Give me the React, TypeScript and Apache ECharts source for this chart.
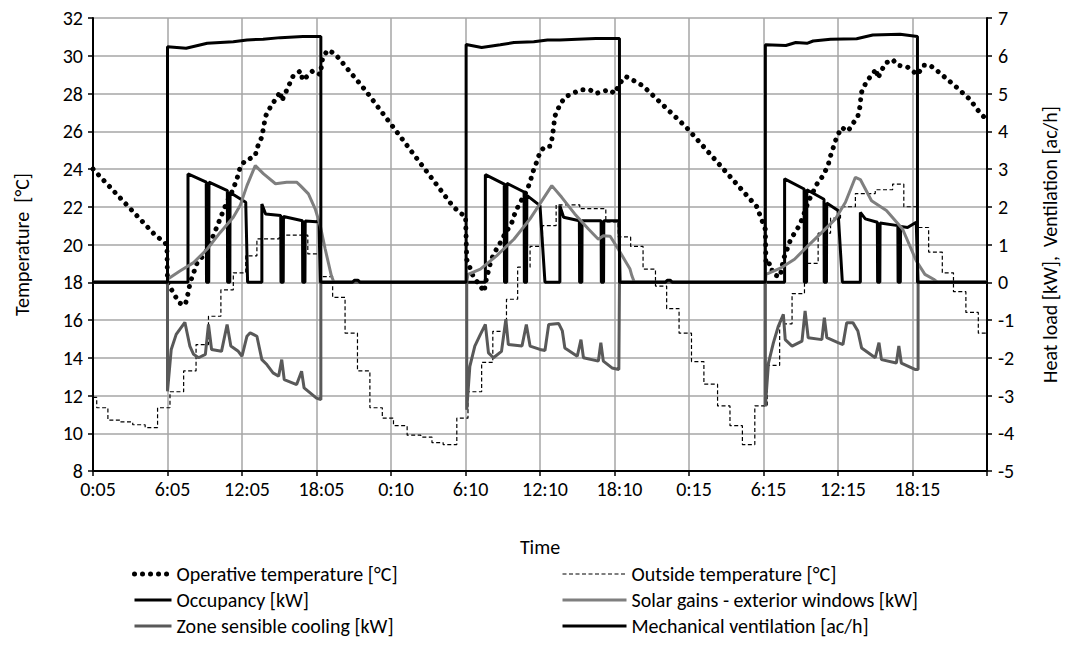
import React, { useEffect, useRef } from "react";
import * as echarts from "echarts";

// x axis: hours from start (0..72), labels every 6 hours
const xTickLabels = ["0:05", "6:05", "12:05", "18:05", "0:10", "6:10", "12:10", "18:10", "0:15", "6:15", "12:15", "18:15", ""];

const seriesNames = [
  "Operative temperature [°C]",
  "Outside temperature [°C]",
  "Occupancy [kW]",
  "Solar gains - exterior windows [kW]",
  "Zone sensible cooling [kW]",
  "Mechanical ventilation [ac/h]",
];

// [hour, °C]
const operativeTemp = [
  [0, 24.0], [1, 23.3], [2, 22.6], [3, 21.9], [4, 21.2], [5, 20.5], [5.8, 20.1], [5.95, 19.9],
  [6.0, 18.0], [6.5, 17.4], [6.95, 16.9], [7.43, 16.8], [7.65, 17.4], [7.83, 18.0], [8.05, 18.4],
  [8.37, 19.0], [8.86, 19.4], [9.18, 19.7], [9.44, 20.1], [9.77, 20.6], [10.2, 21.3], [10.5, 21.8],
  [10.9, 22.4], [11.3, 22.95], [11.6, 23.5], [11.86, 24.1], [12.26, 24.45], [12.5, 24.5], [13.07, 24.7],
  [13.2, 25.1], [13.6, 25.7], [13.9, 26.8], [14.3, 27.3], [14.7, 27.7], [15.1, 28.1], [15.2, 27.6],
  [16.1, 28.9], [16.7, 29.2], [16.9, 28.7], [17.7, 29.2], [18.3, 29.0], [18.5, 29.9], [18.9, 30.3],
  [19.5, 30.1], [20.5, 29.3], [21.9, 28.2], [28.9, 22.1], [29.5, 21.7], [30.0, 21.5],
  [30.1, 19.2], [30.4, 18.7], [30.65, 18.25], [31.2, 17.8], [31.5, 17.5], [31.65, 18.07], [32.07, 19.2],
  [32.45, 19.7], [32.9, 20.2], [33.2, 20.6], [33.7, 21.1], [34.0, 21.7], [34.3, 22.1], [34.9, 22.8],
  [35.2, 23.3], [35.4, 23.8], [35.75, 24.4], [36.0, 24.9], [36.4, 25.2], [36.8, 25.2], [37.0, 25.7],
  [37.2, 26.8], [37.6, 27.4], [38.0, 27.8], [38.6, 28.0], [39.3, 28.2], [40.0, 28.2], [40.5, 28.0],
  [41.0, 28.1], [41.6, 28.2], [42.0, 28.0], [42.5, 28.6], [42.9, 28.9], [43.5, 28.7], [44.3, 28.4],
  [47.8, 26.2], [53.46, 22.0], [53.86, 21.3], [54.15, 20.8], [54.2, 18.9], [54.53, 19.0], [54.8, 18.4],
  [55.34, 18.3], [55.6, 19.2], [55.93, 19.8], [56.2, 20.3], [56.7, 20.8], [56.95, 21.1], [57.2, 21.5],
  [57.4, 21.9], [57.7, 22.4], [58.0, 22.8], [58.3, 23.2], [58.8, 23.65], [59.2, 24.2], [59.4, 24.7],
  [59.9, 25.7], [60.3, 26.2], [60.8, 26.0], [61.2, 26.4], [61.6, 26.8], [61.8, 27.4], [61.85, 28.0],
  [62.2, 28.5], [62.6, 28.9], [63.1, 29.3], [63.2, 28.8], [63.8, 29.6], [64.4, 29.8], [64.8, 29.5],
  [65.6, 29.4], [66.4, 29.0], [66.9, 29.5], [67.4, 29.5], [68.0, 29.2], [69.6, 28.3], [70.6, 27.7],
  [71.4, 27.0], [72, 26.6],
];

// [hour at which the value starts, °C] (stepped)
const outsideTemp = [
  [0, 11.9], [0.3, 11.35], [1.2, 10.7], [2.2, 10.6], [3.2, 10.45], [4.2, 10.3], [5.2, 11.35], [6.2, 12.2],
  [7.3, 13.3], [8.3, 14.7], [9.3, 16.2], [10.3, 17.6], [11.3, 18.5], [12.3, 19.4], [13.2, 20.3], [15.0, 20.5],
  [17.3, 19.5], [18.3, 18.3], [19.3, 17.2], [20.3, 15.3], [21.3, 13.3], [22.3, 11.35], [23.3, 10.8], [24.2, 10.4],
  [25.3, 9.9], [26.4, 9.8], [27.3, 9.5], [28.2, 9.4], [29.3, 10.8], [30.2, 12.2], [31.3, 13.75], [32.2, 15.4],
  [33.3, 17.1], [34.2, 18.8], [35.2, 19.9], [36.2, 21.0], [37.3, 22.1], [39.2, 21.9], [41.3, 21.2], [42.3, 20.4],
  [43.3, 19.9], [44.3, 18.7], [45.3, 17.8], [46.2, 16.6], [47.2, 15.3], [48.2, 13.8], [49.2, 12.6], [50.3, 11.45],
  [51.3, 10.4], [52.3, 9.4], [53.3, 11.45], [54.3, 13.6], [55.3, 15.8], [56.3, 17.4], [57.3, 19.0], [58.4, 20.6],
  [59.4, 21.4], [60.2, 22.0], [61.4, 22.7], [63.0, 22.9], [64.4, 23.2], [65.3, 22.0], [66.4, 20.9], [67.3, 19.6],
  [68.4, 18.5], [69.3, 17.5], [70.3, 16.4], [71.3, 15.3], [72, 15.3],
];

// [hour, kW]
const occupancy = [
  [0, 0], [7.65, 0], [7.65, 2.87], [9.12, 2.65], [9.14, 0], [9.32, 0], [9.34, 2.65], [10.82, 2.43], [10.84, 0],
  [11.02, 0], [11.04, 2.38], [12.3, 2.12], [12.45, 0], [13.6, 0], [13.6, 2.07], [13.9, 1.81], [15.12, 1.77],
  [15.14, 0], [15.32, 0], [15.34, 1.74], [16.87, 1.63], [16.89, 0], [17.07, 0], [17.09, 1.62], [18.0, 1.6],
  [18.2, 1.65], [18.3, 0],
  [31.6, 0], [31.6, 2.85], [33.12, 2.6], [33.14, 0], [33.32, 0], [33.34, 2.62], [34.72, 2.39], [34.74, 0],
  [34.92, 0], [34.94, 2.3], [36.0, 2.03], [36.4, 0], [37.6, 0], [37.6, 2.03], [37.9, 1.72], [39.17, 1.63],
  [39.19, 0], [39.37, 0], [39.39, 1.63], [40.92, 1.63], [40.94, 0], [41.12, 0], [41.14, 1.63], [42.35, 1.63],
  [42.45, 0],
  [55.7, 0], [55.7, 2.74], [57.27, 2.47], [57.29, 0], [57.47, 0], [57.49, 2.45], [58.87, 2.2], [58.89, 0],
  [59.07, 0], [59.09, 2.1], [60.0, 1.9], [60.35, 0], [61.8, 0], [61.8, 1.85], [62.2, 1.68], [63.17, 1.59],
  [63.19, 0], [63.37, 0], [63.39, 1.57], [64.82, 1.5], [64.84, 0], [65.02, 0], [65.04, 1.48], [65.6, 1.45],
  [66.3, 1.59], [66.45, 0], [72, 0],
];

// [hour, kW]
const solarGains = [
  [0, 0], [6.0, 0], [6.0, 0.08], [7.0, 0.3], [8.1, 0.52], [9.2, 0.88], [10.25, 1.32], [11.3, 1.72],
  [11.85, 2.03], [12.4, 2.56], [13.07, 3.09], [13.74, 2.87], [14.7, 2.61], [15.6, 2.65], [16.4, 2.65],
  [16.7, 2.56], [17.35, 2.34], [17.9, 1.94], [18.3, 1.5], [18.7, 0.88], [19.2, 0.17], [19.4, 0],
  [30.1, 0], [30.2, 0.21], [31.2, 0.35], [32.5, 0.7], [33.9, 1.14], [35.2, 1.68], [36.95, 2.56],
  [37.75, 2.25], [38.8, 1.81], [39.9, 1.41], [40.7, 1.14], [41.1, 1.23], [41.65, 1.22], [42.3, 0.88],
  [43.25, 0.35], [43.4, 0.17], [43.6, 0],
  [54.15, 0], [54.2, 0.21], [55.45, 0.39], [56.5, 0.61], [57.6, 0.97], [58.7, 1.32], [59.8, 1.68],
  [60.6, 2.12], [61.4, 2.78], [61.8, 2.72], [62.7, 2.16], [63.9, 1.9], [65.2, 1.41], [66.3, 0.57],
  [67.0, 0.21], [67.7, 0.08], [68.0, 0], [72, 0],
];

// [hour, kW]
const zoneCooling = [
  [0, 0], [6.0, 0], [6.0, -2.89], [6.3, -1.78], [6.7, -1.38], [7.4, -1.06], [7.8, -1.69], [8.1, -1.91],
  [8.5, -2.0], [9.05, -1.91], [9.3, -1.12], [9.55, -1.78], [10.35, -1.83], [10.8, -1.12], [11.1, -1.69],
  [11.7, -1.83], [12.0, -1.96], [12.4, -1.43], [12.66, -1.34], [13.2, -1.43], [13.6, -2.05], [14.0, -2.18],
  [14.5, -2.4], [14.95, -2.49], [15.2, -2.05], [15.4, -2.58], [16.4, -2.71], [16.8, -2.36], [17.0, -2.8],
  [18.0, -3.07], [18.35, -3.11], [18.35, 0],
  [30.1, 0], [30.1, -3.38], [30.35, -2.23], [30.75, -1.69], [31.2, -1.38], [31.6, -1.12], [31.85, -1.87],
  [32.25, -2.0], [32.9, -1.83], [33.25, -0.98], [33.45, -1.65], [34.55, -1.69], [34.9, -1.12], [35.2, -1.69],
  [36.0, -1.78], [36.4, -1.81], [36.7, -1.12], [37.5, -1.09], [37.8, -1.29], [38.0, -1.74], [39.0, -1.96],
  [39.3, -1.52], [39.5, -2.0], [40.7, -2.09], [40.9, -1.6], [41.1, -2.09], [41.8, -2.27], [42.35, -2.31],
  [42.4, 0],
  [54.15, 0], [54.15, -3.29], [54.4, -2.14], [54.8, -1.6], [55.2, -1.16], [55.6, -0.85], [55.75, -1.52],
  [56.3, -1.69], [57.1, -1.56], [57.35, -0.76], [57.6, -1.47], [58.7, -1.52], [58.9, -0.94], [59.1, -1.47],
  [60.0, -1.6], [60.4, -1.65], [60.7, -1.07], [61.2, -1.07], [61.6, -1.29], [61.9, -1.74], [63.0, -2.0],
  [63.3, -1.6], [63.5, -2.05], [64.7, -2.14], [64.9, -1.69], [65.1, -2.14], [66.2, -2.31], [66.45, -2.31],
  [66.45, 0], [72, 0],
];

// [hour, ac/h]
const mechVentilation = [
  [0, 0], [6.0, 0], [6.0, 6.24], [7.5, 6.2], [9.2, 6.33], [11.3, 6.37], [12.4, 6.42], [13.7, 6.44],
  [15.1, 6.48], [16.9, 6.51], [18.35, 6.51], [18.35, 0],
  [20.9, 0], [21.05, 0.05], [21.35, 0.05], [21.5, 0],
  [30.05, 0], [30.05, 6.3], [31.3, 6.22], [32.8, 6.29], [33.9, 6.35], [35.5, 6.37], [36.6, 6.42],
  [37.6, 6.42], [39.0, 6.44], [40.5, 6.46], [42.4, 6.46], [42.4, 0],
  [46.1, 0], [46.25, 0.05], [46.5, 0.05], [46.65, 0],
  [54.15, 0], [54.15, 6.29], [55.8, 6.27], [56.6, 6.35], [57.5, 6.33], [58.0, 6.39], [59.4, 6.44],
  [61.5, 6.45], [62.8, 6.55], [65.0, 6.57], [66.4, 6.51], [66.4, 0], [72, 0],
];

const FONT = "Carlito, 'Liberation Sans Narrow', 'Liberation Sans', sans-serif";

export default function App() {
  const ref = useRef<HTMLDivElement>(null);
  useEffect(() => {
    if (!ref.current) return;
    const chart = echarts.init(ref.current, undefined, { renderer: "svg" });
    const txt = { color: "#000", fontFamily: FONT, fontSize: 20 };
    const axisLine = { show: true, onZero: false, lineStyle: { color: "#000", width: 2 } };
    const axisTick = { show: true, length: 5, inside: false, lineStyle: { color: "#000", width: 1.5 } };
    const grid = { lineStyle: { color: "#a6a6a6", width: 1.5 } };
    const legendCommon = {
      top: 559, orient: "vertical", itemHeight: 14, itemGap: 6, selectedMode: false,
      textStyle: { ...txt, lineHeight: 20 },
      itemStyle: { opacity: 0, borderWidth: 0 },
      lineStyle: { width: "inherit" },
    };
    chart.setOption({
      animation: false,
      backgroundColor: "#fff",
      textStyle: { fontFamily: FONT },
      grid: { left: 93, right: 84, top: 18, bottom: 179, containLabel: false },
      xAxis: {
        type: "value", min: 0, max: 72, interval: 6,
        axisLine, axisTick,
        axisLabel: { ...txt, margin: 8, padding: [0, 0, 0, 10], formatter: (v: number) => xTickLabels[Math.round(v / 6)] ?? "" },
        splitLine: { show: true, ...grid },
        name: "Time", nameLocation: "middle", nameGap: 66, nameTextStyle: txt,
      },
      yAxis: [
        {
          type: "value", min: 8, max: 32, interval: 2, position: "left",
          axisLine, axisTick,
          axisLabel: { ...txt, margin: 10 },
          splitLine: { show: true, ...grid },
          name: "Temperature  [°C]", nameLocation: "middle", nameGap: 61, nameRotate: 90, nameTextStyle: txt,
        },
        {
          type: "value", min: -5, max: 7, interval: 1, position: "right",
          axisLine, axisTick,
          axisLabel: { ...txt, margin: 11 },
          splitLine: { show: false },
          name: "Heat load [kW],  Ventilation [ac/h]", nameLocation: "middle", nameGap: 53, nameRotate: 90, nameTextStyle: txt,
        },
      ],
      legend: [
        { ...legendCommon, left: 127, itemWidth: 37, data: [seriesNames[0], seriesNames[2], seriesNames[4]] },
        { ...legendCommon, left: 556, itemWidth: 64, data: [seriesNames[1], seriesNames[3], seriesNames[5]] },
      ],
      series: [
        {
          name: seriesNames[0], type: "line", yAxisIndex: 0, data: operativeTemp, symbol: "none", showSymbol: false,
          color: "#000", lineStyle: { color: "#000", width: 5, type: [0.01, 8], cap: "round" },
        },
        {
          name: seriesNames[1], type: "line", yAxisIndex: 0, data: outsideTemp, step: "end", symbol: "none", showSymbol: false,
          color: "#000", lineStyle: { color: "#000", width: 1.2, type: [4, 2.5] },
        },
        {
          name: seriesNames[2], type: "line", yAxisIndex: 1, data: occupancy, symbol: "none", showSymbol: false,
          color: "#000", lineStyle: { color: "#000", width: 3 },
        },
        {
          name: seriesNames[3], type: "line", yAxisIndex: 1, data: solarGains, symbol: "none", showSymbol: false,
          color: "#7f7f7f", lineStyle: { color: "#7f7f7f", width: 3 },
        },
        {
          name: seriesNames[4], type: "line", yAxisIndex: 1, data: zoneCooling, symbol: "none", showSymbol: false,
          color: "#595959", lineStyle: { color: "#595959", width: 3 },
        },
        {
          name: seriesNames[5], type: "line", yAxisIndex: 1, data: mechVentilation, symbol: "none", showSymbol: false,
          color: "#000", lineStyle: { color: "#000", width: 3 },
        },
      ],
    });
    return () => chart.dispose();
  }, []);
  return <div ref={ref} style={{ position: "fixed", left: 0, top: 0, width: 1071, height: 650 }} />;
}
